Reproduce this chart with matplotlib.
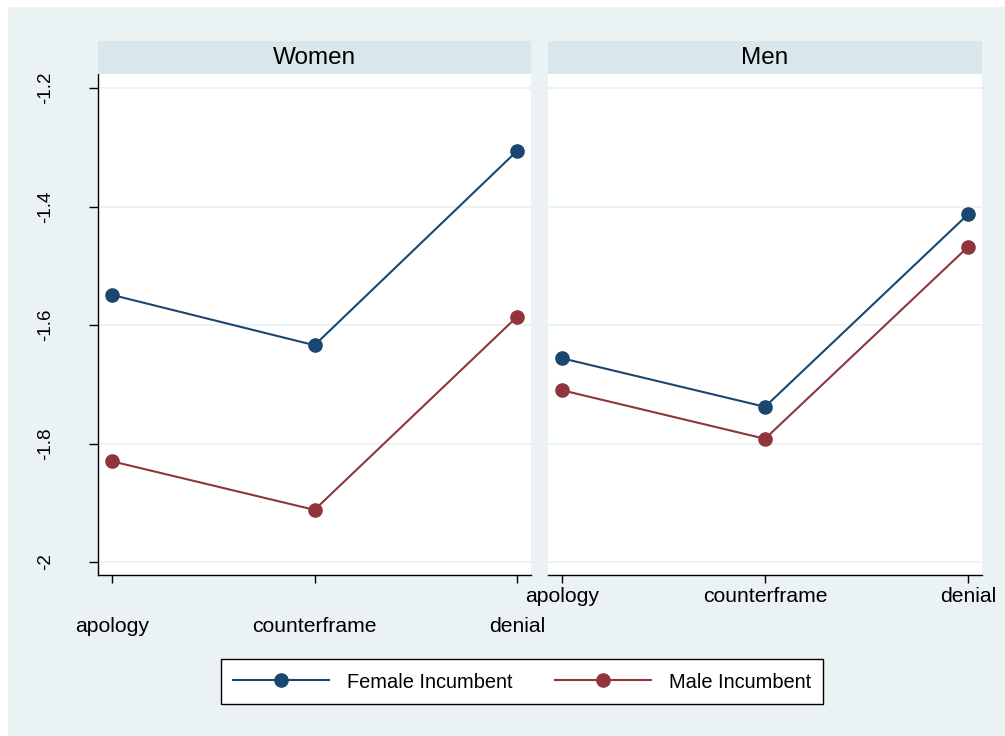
import matplotlib
matplotlib.use("Agg")
import matplotlib.pyplot as plt
from matplotlib.lines import Line2D

plt.rcParams['font.family'] = ['Liberation Sans', 'DejaVu Sans']

# Data
responses = ["apology", "counterframe", "denial"]
panels = ["Women", "Men"]
female_incumbent = {
    "Women": [-1.549, -1.634, -1.306],
    "Men": [-1.656, -1.738, -1.413],
}
male_incumbent = {
    "Women": [-1.830, -1.912, -1.586],
    "Men": [-1.710, -1.792, -1.468],
}
y_ticks = [-2.0, -1.8, -1.6, -1.4, -1.2]
y_tick_labels = ["-2", "-1.8", "-1.6", "-1.4", "-1.2"]

NAVY = "#1a476f"
MAROON = "#90353b"
BG = "#eaf2f3"
HEADER = "#d9e6eb"

W, H = 1005, 736
fig = plt.figure(figsize=(W / 100, H / 100), dpi=100)
fig.patch.set_facecolor("white")


def box(x0, y0, x1, y1):
    """pixel box (top-left origin) -> figure fraction [l, b, w, h]"""
    return [x0 / W, 1 - y1 / H, (x1 - x0) / W, (y1 - y0) / H]


# outer background panel
bg_ax = fig.add_axes(box(8, 7, W, H), zorder=-10)
bg_ax.set_facecolor(BG)
bg_ax.set_xticks([])
bg_ax.set_yticks([])
for s in bg_ax.spines.values():
    s.set_visible(False)

panel_x = {"Women": (98, 531), "Men": (548, 982)}
x = [1, 2, 3]
XFS = 15.2
YFS = 13.5
LW = 1.5
MS = 9.5

for i, name in enumerate(panels):
    x0, x1 = panel_x[name]
    ax = fig.add_axes(box(x0, 74, x1, 575))
    ax.set_facecolor("white")
    ax.set_xlim(0.931, 3.069)
    ax.set_ylim(-2.022, -1.176)
    for yt in y_ticks:
        ax.axhline(yt, color=BG, lw=1.3, zorder=1)
    ax.plot(x, female_incumbent[name], color=NAVY, lw=LW, marker="o",
            ms=MS, zorder=3)
    ax.plot(x, male_incumbent[name], color=MAROON, lw=LW, marker="o",
            ms=MS, zorder=3)
    for s in ["top", "right"]:
        ax.spines[s].set_visible(False)
    ax.spines["bottom"].set_linewidth(1.0)
    ax.set_xticks(x)
    ax.set_xticklabels(responses, fontsize=XFS)
    ax.tick_params(axis="x", length=6, width=1.0, direction="out",
                   pad=24 if i == 0 else 3)
    if i == 0:
        ax.spines["left"].set_linewidth(1.0)
        ax.set_yticks(y_ticks)
        ax.set_yticklabels(y_tick_labels, fontsize=YFS, rotation=90,
                           va="center")
        ax.tick_params(axis="y", length=6.5, width=1.0, direction="out",
                       pad=25)
    else:
        ax.spines["left"].set_visible(False)
        ax.set_yticks(y_ticks)
        ax.tick_params(axis="y", length=0, labelleft=False)

    hax = fig.add_axes(box(x0, 41, x1, 74))
    hax.set_facecolor(HEADER)
    hax.set_xticks([])
    hax.set_yticks([])
    for s in hax.spines.values():
        s.set_visible(False)
    hax.text(0.5, 0.5, name, ha="center", va="center", fontsize=17.5,
             transform=hax.transAxes)

# legend
handles = [
    Line2D([], [], color=NAVY, lw=LW, marker="o", ms=MS),
    Line2D([], [], color=MAROON, lw=LW, marker="o", ms=MS),
]
leg = fig.legend(handles, ["Female Incumbent", "Male Incumbent"],
                 loc="center", bbox_to_anchor=(522 / W, 1 - 681.5 / H),
                 ncol=2, fontsize=14.4, frameon=True, fancybox=False,
                 handlelength=4.8, handleheight=1.2, handletextpad=0.9,
                 columnspacing=2.1, borderpad=0.6, edgecolor="black",
                 framealpha=1)
leg.get_frame().set_linewidth(1.0)
leg.get_frame().set_facecolor("white")

fig.savefig("out.png", dpi=100)
